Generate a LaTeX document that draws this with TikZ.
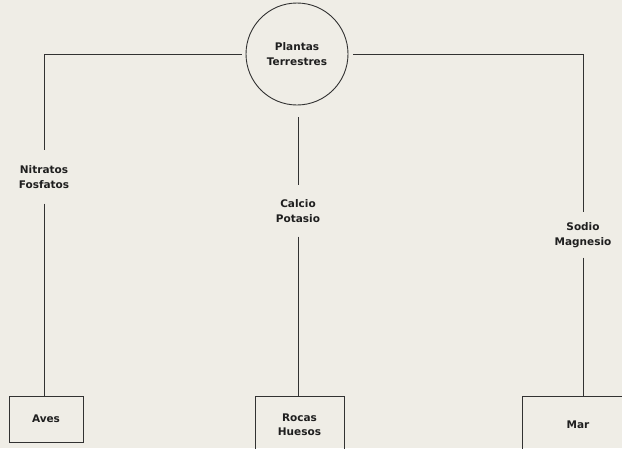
\documentclass[tikz,border=0pt]{standalone}
\usepackage{fontspec}
\setmainfont{DejaVu Sans}
\usepackage{xcolor}
\usetikzlibrary{calc,positioning}

\definecolor{papel}{RGB}{239,237,230}
\definecolor{tinta}{RGB}{50,50,50}

\begin{document}
\begin{tikzpicture}[x=1pt,y=-1pt,
	txt/.style = {font=\bfseries\fontsize{10.5}{14.5}\selectfont, text=black!88, align=center},
	caja/.style = {draw=tinta, line width=0.9pt, rectangle, txt},
	lab/.style = {txt, inner ysep=#1pt},
	lin/.style = {draw=tinta, line width=0.9pt}]
	
	\def \ancho {622}
	\def \alto {448}
	
	\useasboundingbox (0,0) rectangle (\ancho,\alto);
	\clip (0,0) rectangle (\ancho,\alto);
	\fill[papel] (0,0) rectangle (\ancho,\alto);
	
	% centro
	\node[draw=tinta, line width=0.9pt, circle, minimum size=102pt, txt] (pt) at (297,54) {Plantas\\Terrestres};
	
	% etiquetas de las lineas
	\node[lab=15] (nf) at (44,177) {Nitratos\\Fosfatos};
	\node[lab=14] (cp) at (298,211) {Calcio\\Potasio};
	\node[lab=10] (sm) at (583,235) {Sodio\\Magnesio};
	
	% cajas de abajo
	\node[caja, minimum width=74pt, minimum height=46pt] (av) at (46,419) {Aves};
	\node[caja, minimum width=89pt, minimum height=57pt] (rh) at (299.5,424.5) {Rocas\\Huesos};
	\node[caja, minimum width=112pt, minimum height=57pt] (ma) at (578,424.5) {Mar};
	
	\draw[lin, shorten <=4pt] (pt.west) -| (nf.north);
	\draw[lin, shorten <=5pt] (pt.east) -| (sm.north);
	\draw[lin, shorten <=12pt] (cp.north |- pt.south) -- (cp.north);
	\draw[lin] (nf.south) -- (nf.south |- av.north);
	\draw[lin] (cp.south) -- (cp.south |- rh.north);
	\draw[lin] (sm.south) -- (sm.south |- ma.north);
\end{tikzpicture}
\end{document}
